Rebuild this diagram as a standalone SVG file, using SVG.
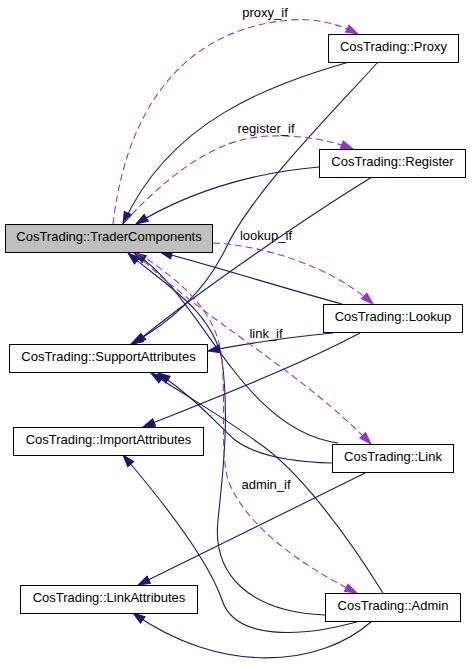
<svg xmlns="http://www.w3.org/2000/svg" width="472" height="664" viewBox="0 0 472 664">
<style>
.node rect{fill:#fff;stroke:#000;stroke-width:1}
.node.focus rect{fill:#bfbfbf}
text{font-family:"Liberation Sans",Arial,Helvetica,sans-serif;font-size:13px;text-anchor:middle;fill:#000}
.inh{fill:none;stroke:#191970;stroke-width:1.1;marker-end:url(#ah)}
.use{fill:none;stroke:#9a32cd;stroke-width:1.1;stroke-dasharray:7,4;marker-end:url(#ap)}
</style>
<defs>
<marker id="ah" markerUnits="userSpaceOnUse" markerWidth="14" markerHeight="10" refX="12" refY="4" orient="auto" overflow="visible"><path d="M0,0 L12,4 L0,8 z" fill="#191970" stroke="#191970" stroke-width="1"/></marker>
<marker id="ap" markerUnits="userSpaceOnUse" markerWidth="14" markerHeight="10" refX="12" refY="4" orient="auto" overflow="visible"><path d="M0,0 L12,4 L0,8 z" fill="#9a32cd" stroke="#9a32cd" stroke-width="1"/></marker>
</defs>
<rect width="472" height="664" fill="#fff"/>
<g id="edges">
<path class="inh" d="M349,62 C270,85 170,120 123,224"/>
<path class="inh" d="M378,62 C330,115 250,195 225,250 C205,290 175,320 131,344"/>
<path class="inh" d="M319,167 C270,171 200,185 136,224"/>
<path class="inh" d="M372,177 C310,215 200,290 134,344"/>
<path class="inh" d="M342,304 C290,290 210,265 160,252"/>
<path class="inh" d="M333,333 C290,337 250,343 208,351"/>
<path class="inh" d="M360,333 C300,365 210,400 143,427"/>
<path class="inh" d="M338,443 C240,430 200,292 134,253"/>
<path class="inh" d="M332,463 C290,462 255,455 235,440 C215,422 195,398 158,373"/>
<path class="inh" d="M365,473 C290,510 210,550 138,585"/>
<path class="inh" d="M325,615 C250,612 212,575 218,520 C222,480 230,420 222,360 C212,310 165,285 128,253"/>
<path class="inh" d="M383,593 C350,540 300,470 257,442 C228,420 185,395 151,373"/>
<path class="inh" d="M360,621 C300,638 235,640 222,600 C210,565 170,510 123,455"/>
<path class="inh" d="M372,621 C320,668 220,675 133,613"/>
<path class="use" d="M113,224 C125,120 175,30 290,20 C320,18 340,25 358,34"/>
<path class="use" d="M124,222 C160,185 210,137 270,136 C300,135 330,140 353,149"/>
<path class="use" d="M213,243 C260,245 330,265 373,304"/>
<path class="use" d="M136,253 C190,310 300,370 371,444"/>
<path class="use" d="M138,253 C187,285 218,315 222,360 C226,410 220,450 228,480 C245,525 300,565 357,593"/>
<text x="265" y="17">proxy_if</text>
<text x="266" y="133">register_if</text>
<text x="266" y="240">lookup_if</text>
<text x="266" y="338">link_if</text>
<text x="266" y="489">admin_if</text>
</g>
<g id="TraderComponents" class="node focus"><rect x="5.5" y="224.5" width="207" height="28"/><text x="109" y="241">CosTrading::TraderComponents</text></g>
<g id="Proxy" class="node"><rect x="328.5" y="34.5" width="130" height="28"/><text x="393.5" y="51">CosTrading::Proxy</text></g>
<g id="Register" class="node"><rect x="319.5" y="149.5" width="146" height="28"/><text x="392.5" y="166">CosTrading::Register</text></g>
<g id="Lookup" class="node"><rect x="323.5" y="304.5" width="139" height="28"/><text x="393" y="321">CosTrading::Lookup</text></g>
<g id="SupportAttributes" class="node"><rect x="9.5" y="344.5" width="198" height="28"/><text x="108.5" y="361">CosTrading::SupportAttributes</text></g>
<g id="ImportAttributes" class="node"><rect x="13.5" y="427.5" width="190" height="28"/><text x="108.5" y="444">CosTrading::ImportAttributes</text></g>
<g id="Link" class="node"><rect x="332.5" y="444.5" width="121" height="28"/><text x="393" y="461">CosTrading::Link</text></g>
<g id="LinkAttributes" class="node"><rect x="20.5" y="585.5" width="177" height="28"/><text x="109" y="602">CosTrading::LinkAttributes</text></g>
<g id="Admin" class="node"><rect x="325.5" y="593.5" width="135" height="28"/><text x="393" y="610">CosTrading::Admin</text></g>
</svg>
